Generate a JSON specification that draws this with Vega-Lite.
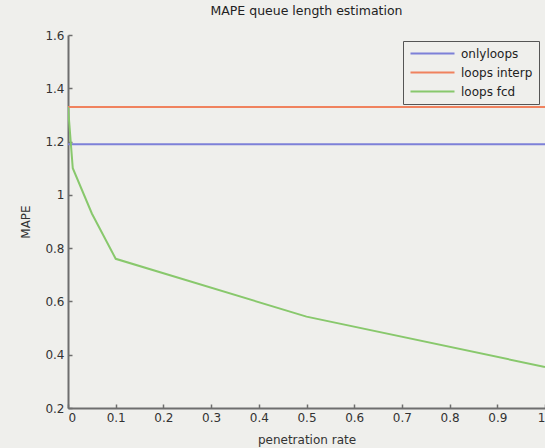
{
  "$schema": "https://vega.github.io/schema/vega-lite/v6.json",
  "autosize": "none",
  "width": 477,
  "height": 373,
  "padding": {"left": 68, "top": 35, "right": 0, "bottom": 40},
  "background": "#EFEFEC",
  "title": {"text": "MAPE queue length estimation", "fontSize": 12.5, "font": "DejaVu Sans", "fontWeight": "normal", "color": "#222", "offset": 12},
  "data": {"values": [
    {"rate": 0, "mape": 1.19, "method": "onlyloops"},
    {"rate": 1, "mape": 1.19, "method": "onlyloops"},
    {"rate": 0, "mape": 1.33, "method": "loops interp"},
    {"rate": 1, "mape": 1.33, "method": "loops interp"},
    {"rate": 0, "mape": 1.33, "method": "loops fcd"},
    {"rate": 0.01, "mape": 1.10, "method": "loops fcd"},
    {"rate": 0.05, "mape": 0.93, "method": "loops fcd"},
    {"rate": 0.1, "mape": 0.76, "method": "loops fcd"},
    {"rate": 0.5, "mape": 0.543, "method": "loops fcd"},
    {"rate": 1, "mape": 0.354, "method": "loops fcd"}
  ]},
  "mark": {"type": "line", "strokeWidth": 2, "clip": true},
  "encoding": {
    "x": {"field": "rate", "type": "quantitative", "title": "penetration rate",
      "scale": {"domain": [0, 1], "nice": false},
      "axis": {"values": [0, 0.1, 0.2, 0.3, 0.4, 0.5, 0.6, 0.7, 0.8, 0.9, 1], "format": "~g", "grid": false, "tickSize": -4, "labelPadding": 8, "titlePadding": 11}},
    "y": {"field": "mape", "type": "quantitative", "title": "MAPE",
      "scale": {"domain": [0.2, 1.6], "nice": false, "zero": false},
      "axis": {"values": [0.2, 0.4, 0.6, 0.8, 1, 1.2, 1.4, 1.6], "format": "~g", "grid": false, "tickSize": -4, "labelPadding": 8, "titlePadding": 12}},
    "color": {"field": "method", "type": "nominal",
      "scale": {"domain": ["onlyloops", "loops interp", "loops fcd"], "range": ["#7d80d8", "#f0825e", "#88c86c"]},
      "legend": {"title": null, "orient": "none", "legendX": 335, "legendY": 6, "symbolType": "M-4,0L4,0", "symbolSize": 121, "symbolStrokeWidth": 2, "symbolOffset": 17,
        "strokeColor": "#555", "padding": 6, "rowPadding": 6, "labelFontSize": 12, "labelFont": "DejaVu Sans", "labelColor": "#222", "labelOffset": 22}}
  },
  "config": {
    "view": {"stroke": null},
    "axis": {"domainColor": "#6e6e6e", "domainWidth": 2, "tickColor": "#6e6e6e", "tickWidth": 1.5, "labelFont": "DejaVu Sans", "labelFontSize": 12, "labelColor": "#333", "titleFont": "DejaVu Sans", "titleFontSize": 12, "titleFontWeight": "normal", "titleColor": "#333"}
  }
}
